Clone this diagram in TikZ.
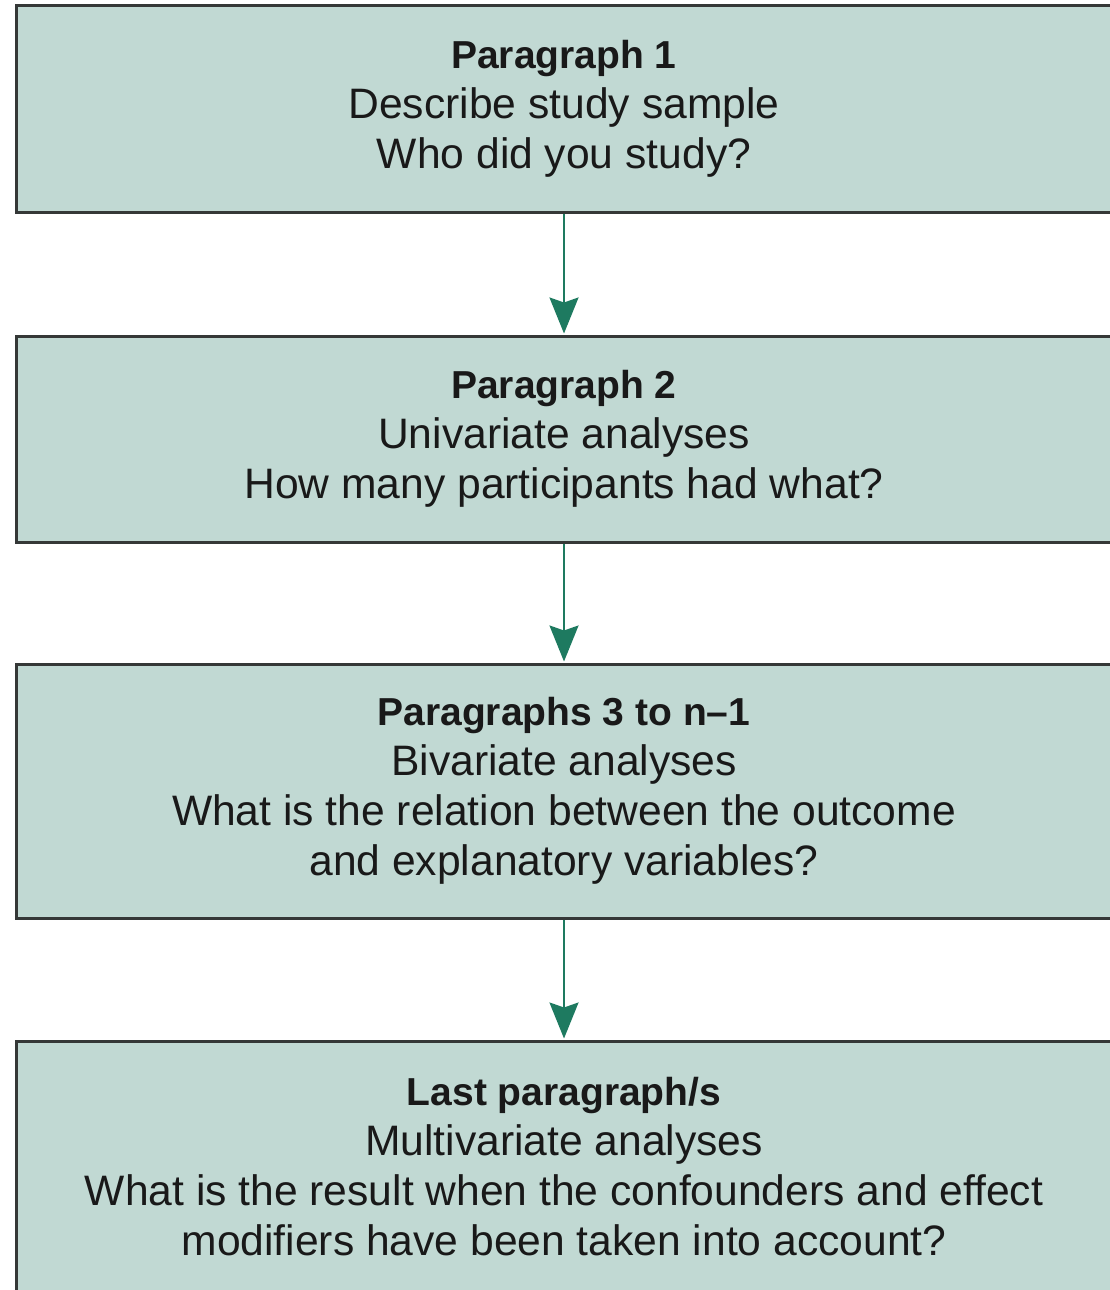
\documentclass[tikz,border=0pt]{standalone}
\usepackage{fontspec}
\setmainfont{Liberation Sans}
\usetikzlibrary{arrows.meta}
\definecolor{boxfill}{HTML}{C1D9D3}
\definecolor{boxline}{HTML}{353837}
\definecolor{arrowgreen}{HTML}{1E7A60}
\tikzset{
  stagebox/.style={draw=boxline, line width=3pt, fill=boxfill, rectangle,
    minimum width=1096pt, inner sep=0pt, align=center, text=black!90,
    font=\fontsize{42.6}{50}\selectfont},
  flowarrow/.style={draw=arrowgreen, line width=2pt,
    -{Stealth[length=36pt,width=29pt,inset=5pt]}, shorten >=1pt}
}
\newcommand{\stagetitle}[1]{{\bfseries\fontsize{39}{50}\selectfont #1}}
\begin{document}
\begin{tikzpicture}[x=1pt,y=-1pt]
\fill[white] (0,0) rectangle (1109,1290);
\useasboundingbox (0,0) rectangle (1109,1290);
\node[stagebox, minimum height=206pt] (b1) at (564,109)
  {\stagetitle{Paragraph 1}\\Describe study sample\\Who did you study?};
\node[stagebox, minimum height=206pt] (b2) at (564,439)
  {\stagetitle{Paragraph 2}\\Univariate analyses\\How many participants had what?};
\node[stagebox, minimum height=254pt] (b3) at (564,791)
  {\stagetitle{Paragraphs 3 to n--1}\\Bivariate analyses\\What is the relation between the outcome\\and explanatory variables?};
\node[stagebox, minimum height=252pt] (b4) at (564,1167)
  {\stagetitle{Last paragraph/s}\\Multivariate analyses\\What is the result when the confounders and effect\\modifiers have been taken into account?};
\draw[flowarrow] (b1.south) -- (b2.north);
\draw[flowarrow] (b2.south) -- (b3.north);
\draw[flowarrow] (b3.south) -- (b4.north);
\end{tikzpicture}
\end{document}
